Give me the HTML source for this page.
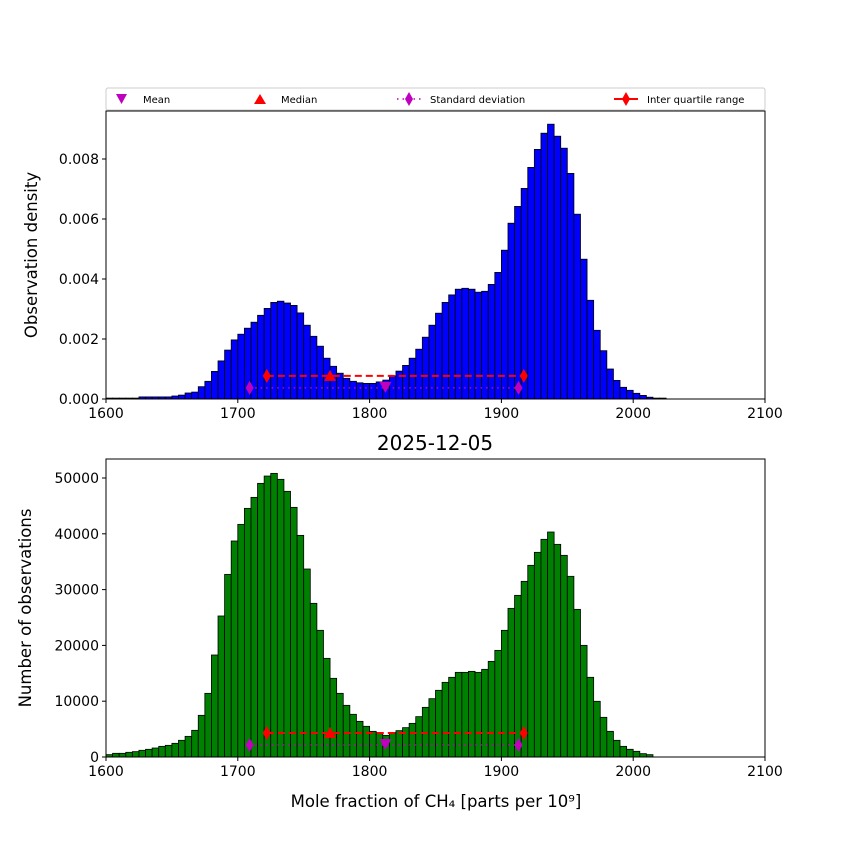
<!DOCTYPE html>
<html><head><meta charset="utf-8"><style>
body{margin:0;background:#fff}
svg text{font-family:"DejaVu Sans","Liberation Sans",sans-serif}
</style></head><body>
<svg id="c" width="850" height="850" xmlns="http://www.w3.org/2000/svg"></svg>
<script>
const binStart = 1600;
const binWidth = 5;
const densityValues = [0.00003,0.00003,0.00003,0.00003,0.00003,0.00007,0.00007,0.00007,0.00007,0.00007,0.0001,0.00013,0.0002,0.00023,0.00041,0.00059,0.00092,0.00127,0.00163,0.00197,0.00216,0.00236,0.00256,0.00279,0.00302,0.00322,0.00326,0.0032,0.00312,0.00287,0.00246,0.00209,0.00176,0.00136,0.00109,0.00086,0.00069,0.00059,0.00054,0.00052,0.00052,0.00057,0.00063,0.00077,0.00093,0.00112,0.00136,0.00166,0.00206,0.00246,0.00286,0.00322,0.00347,0.00366,0.00369,0.00366,0.00356,0.00359,0.00382,0.00422,0.00496,0.00586,0.00642,0.00702,0.00772,0.00832,0.00886,0.00916,0.00876,0.00836,0.00752,0.00616,0.00466,0.00329,0.00229,0.00161,0.001,0.00062,0.00039,0.00029,0.00019,0.00012,0.00006,0.00003,0.00003];
const countValues = [420,660,660,840,960,1200,1380,1610,1910,2090,2450,2990,3700,4780,7470,11410,18280,25270,32730,38710,41690,44560,46530,49040,50350,50830,49760,47610,44740,39720,33690,27540,22700,17680,14100,11410,9260,7650,6390,5500,4600,4360,3880,4360,4720,5260,6030,7230,8900,10450,11950,13380,14280,15170,15170,15350,15170,15710,17140,19110,22700,26640,28970,31480,34350,36680,39010,40320,38110,36140,32380,26460,20010,14280,9980,7110,4600,2990,1910,1380,1020,600,420];
const xTicks = [1600,1700,1800,1900,2000,2100];
const densityTicks = [0,0.002,0.004,0.006,0.008];
const densityTickLabels = ["0.000","0.002","0.004","0.006","0.008"];
const countTicks = [0,10000,20000,30000,40000,50000];
const statsX = {mean:1812, median:1770, stdLo:1709, stdHi:1913, iqrLo:1722, iqrHi:1917};
const topStatY = {iqr:0.00077, std:0.00037};
const botStatY = {iqr:4300, std:2150};

const NS="http://www.w3.org/2000/svg";
const svg=document.getElementById('c');
function el(tag,attrs,parent){const e=document.createElementNS(NS,tag);for(const k in attrs)e.setAttribute(k,attrs[k]);(parent||svg).appendChild(e);return e;}
const X0=106,X1=765;
const xs=v=>X0+(v-1600)*(X1-X0)/500;

function panel(name,top,bottom,yMax,values,color,ticks,labels,ylabel,stY,ylx){
  const ys=v=>bottom-v*(bottom-top)/yMax;
  const g=el('g',{});
  
  
  values.forEach((v,i)=>{
    const x=xs(binStart+i*binWidth), w=xs(binStart+(i+1)*binWidth)-x;
    const r=el('rect',{x:x,y:ys(v),width:w,height:bottom-ys(v),fill:color,stroke:'#000','stroke-width':0.8},g);
    
    
  });
  const sY=ys(stY.std), iY=ys(stY.iqr);
  el('line',{x1:xs(statsX.stdLo),x2:xs(statsX.stdHi),y1:sY,y2:sY,stroke:'#bf00bf','stroke-width':1.5,'stroke-dasharray':'1.5,4'},g);
  el('line',{x1:xs(statsX.iqrLo),x2:xs(statsX.iqrHi),y1:iY,y2:iY,stroke:'red','stroke-width':2,'stroke-dasharray':'7,4'},g);
  const dia=(x,y,c)=>el('polygon',{points:`${x},${y-7} ${x+4},${y} ${x},${y+7} ${x-4},${y}`,fill:c},g);
  dia(xs(statsX.stdLo),sY,'#bf00bf');dia(xs(statsX.stdHi),sY,'#bf00bf');
  dia(xs(statsX.iqrLo),iY,'red');dia(xs(statsX.iqrHi),iY,'red');
  const mx=xs(statsX.median);
  el('polygon',{points:`${mx},${iY-6} ${mx+6},${iY+5} ${mx-6},${iY+5}`,fill:'red'},g);
  const mn=xs(statsX.mean);
  el('polygon',{points:`${mn-6},${sY-6} ${mn+6},${sY-6} ${mn},${sY+5}`,fill:'#bf00bf'},g);
  const f=el('rect',{x:X0,y:top,width:X1-X0,height:bottom-top,fill:'none',stroke:'#000','stroke-width':1},g);
  
  xTicks.forEach(t=>{
    el('line',{x1:xs(t),x2:xs(t),y1:bottom,y2:bottom+4,stroke:'#000'},g);
    const tx=el('text',{x:xs(t),y:bottom+19,'font-size':14,'text-anchor':'middle'},g);tx.textContent=t;
    
  });
  ticks.forEach((t,i)=>{
    el('line',{x1:X0-4,x2:X0,y1:ys(t),y2:ys(t),stroke:'#000'},g);
    const tx=el('text',{x:X0-7,y:ys(t)+5,'font-size':14,'text-anchor':'end'},g);tx.textContent=labels[i];
    
  });
  const yl=el('text',{x:0,y:0,'font-size':16.5,'text-anchor':'middle',transform:`translate(${ylx},${(top+bottom)/2}) rotate(-90)`},g);
  yl.textContent=ylabel;
  
}
panel('top-panel',111,399,0.0096,densityValues,'#0000ff',densityTicks,densityTickLabels,'Observation density',topStatY,37);
panel('bottom-panel',459,757,53405,countValues,'#008000',countTicks,countTicks.map(String),'Number of observations',botStatY,31);

const title=el('text',{x:435,y:450,'font-size':20,'text-anchor':'middle'});title.textContent='2025-12-05';

const xl=el('text',{x:436,y:807,'font-size':16.5,'text-anchor':'middle'});xl.textContent='Mole fraction of CH₄ [parts per 10⁹]';


const lg=el('g',{});

el('rect',{x:106,y:88,width:659,height:22,rx:2,fill:'#fff',stroke:'#ccc'},lg);
el('polygon',{points:'116,94 127,94 121.5,104',fill:'#bf00bf'},lg);
el('polygon',{points:'260,94 266,104 254,104',fill:'red'},lg);
el('line',{x1:397,x2:421,y1:99,y2:99,stroke:'#bf00bf','stroke-width':1.5,'stroke-dasharray':'1.5,4'},lg);
el('polygon',{points:'409,92 413,99 409,106 405,99',fill:'#bf00bf'},lg);
el('line',{x1:614,x2:638,y1:99,y2:99,stroke:'red','stroke-width':2},lg);
el('polygon',{points:'626,92 630,99 626,106 622,99',fill:'red'},lg);
[['Mean',143],['Median',281],['Standard deviation',430],['Inter quartile range',647]].forEach(([t,x])=>{
  const tx=el('text',{x:x,y:103,'font-size':10},lg);tx.textContent=t;
  
});
</script>
</body></html>
